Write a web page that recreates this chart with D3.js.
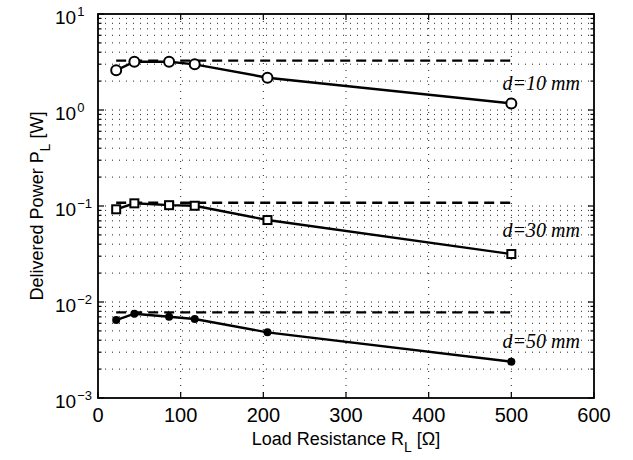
<!DOCTYPE html>
<meta charset="utf-8">
<style>
body { margin: 0; background: #fff; }
text { font-family: "Liberation Sans", Arial, sans-serif; fill: #000; }
.grid line { stroke: #222; stroke-width: 1; stroke-dasharray: 1,6; }
.series { fill: none; stroke: #000; stroke-width: 2.4; }
.maxline { fill: none; stroke: #000; stroke-width: 2.4; stroke-dasharray: 10,6; }
.lbl { font-family: "Liberation Serif", "Times New Roman", serif; font-style: italic; font-size: 20px; }
</style>
<body>
<svg width="633" height="460"></svg>
<script src="https://d3js.org/d3.v7.min.js"></script>
<script>

// load resistance (ohm)
var resistance = [22, 44, 86, 117, 205, 500];

// delivered power (W) for each distance
var p10 = [2.59, 3.18, 3.18, 2.99, 2.17, 1.17];
var p30 = [0.0924, 0.1066, 0.102, 0.1006, 0.0714, 0.0316];
var p50 = [0.00649, 0.00755, 0.00703, 0.00665, 0.00483, 0.00239];

// dashed maximum power levels
var pmax = [3.27, 0.108, 0.0078];

var labels = ["d=10 mm", "d=30 mm", "d=50 mm"];
var labelY = [1.61, 0.0475, 0.00332];

var xTicks = [0, 100, 200, 300, 400, 500, 600];
var yExps = [-3, -2, -1, 0, 1];

var svg = d3.select("svg"),
    margin = {top: 14, right: 39, bottom: 62, left: 98},
    width = 633 - margin.left - margin.right,
    height = 460 - margin.top - margin.bottom;

var x = d3.scaleLinear().domain([0, 600]).range([0, width]);
var y = d3.scaleLog().domain([1e-3, 10]).range([height, 0]);

var g = svg.append("g")
    .attr("transform", "translate(" + margin.left + "," + margin.top + ")");

// minor values for log axis
var minor = [];
yExps.slice(0, 4).forEach(function(e) {
  for (var k = 1; k < 10; k++) minor.push(k * Math.pow(10, e));
});
minor.push(10);

// grid
var grid = g.append("g").attr("class", "grid");
grid.selectAll(".gx").data(xTicks.slice(1, 6)).enter().append("line")
    .attr("x1", function(d) { return x(d); }).attr("x2", function(d) { return x(d); })
    .attr("y1", 0).attr("y2", height);
grid.selectAll(".gy").data(minor.filter(function(d) { return d > 1e-3 && d < 10; })).enter().append("line")
    .attr("x1", 0).attr("x2", width)
    .attr("y1", function(d) { return y(d); }).attr("y2", function(d) { return y(d); });

// ticks (inward, both sides)
var tk = g.append("g").attr("stroke", "#000").attr("stroke-width", 1.2);
xTicks.forEach(function(d) {
  tk.append("line").attr("x1", x(d)).attr("x2", x(d)).attr("y1", height).attr("y2", height - 6);
  tk.append("line").attr("x1", x(d)).attr("x2", x(d)).attr("y1", 0).attr("y2", 6);
});
minor.forEach(function(d) {
  var major = Math.abs(Math.log10(d) - Math.round(Math.log10(d))) < 1e-9;
  var len = major ? 6 : 3.5;
  tk.append("line").attr("x1", 0).attr("x2", len).attr("y1", y(d)).attr("y2", y(d));
  tk.append("line").attr("x1", width).attr("x2", width - len).attr("y1", y(d)).attr("y2", y(d));
});

// box
g.append("rect").attr("width", width).attr("height", height)
    .attr("fill", "none").attr("stroke", "#000").attr("stroke-width", 1.8);

// x tick labels
g.selectAll(".xl").data(xTicks).enter().append("text")
    .attr("x", function(d) { return x(d); })
    .attr("y", height + 24)
    .attr("text-anchor", "middle")
    .attr("font-size", "20px")
    .text(function(d) { return d; });

// y tick labels 10^n
yExps.forEach(function(e) {
  var t = g.append("text")
      .attr("x", -43).attr("y", y(Math.pow(10, e)) + 10)
      .attr("font-size", "19px");
  t.append("tspan").text("10");
  t.append("tspan").attr("dy", -8).attr("dx", 1).attr("font-size", "13px")
      .text(e < 0 ? "\u2212" + (-e) : e);
});

// axis titles
var xt = svg.append("text")
    .attr("x", margin.left + width / 2).attr("y", 445)
    .attr("text-anchor", "middle").attr("font-size", "18px");
xt.append("tspan").text("Load Resistance R");
xt.append("tspan").attr("dy", 7).attr("font-size", "14px").text("L");
xt.append("tspan").attr("dy", -7).text(" [\u03A9]");

var yt = svg.append("text")
    .attr("transform", "translate(43," + (margin.top + height / 2) + ") rotate(-90)")
    .attr("text-anchor", "middle").attr("font-size", "18px");
yt.append("tspan").text("Delivered Power P");
yt.append("tspan").attr("dy", 7).attr("font-size", "14px").text("L");
yt.append("tspan").attr("dy", -7).text(" [W]");

// dashed max lines
g.selectAll(".maxline").data(pmax).enter().append("line")
    .attr("class", "maxline")
    .attr("x1", x(resistance[0])).attr("x2", x(resistance[resistance.length - 1]))
    .attr("y1", function(d) { return y(d); }).attr("y2", function(d) { return y(d); });

var line = d3.line()
    .x(function(d, i) { return x(resistance[i]); })
    .y(function(d) { return y(d); });

[p10, p30, p50].forEach(function(s) {
  g.append("path").datum(s).attr("class", "series").attr("d", line);
});

// markers
g.selectAll(".m10").data(p10).enter().append("circle")
    .attr("cx", function(d, i) { return x(resistance[i]); })
    .attr("cy", function(d) { return y(d); })
    .attr("r", 5).attr("fill", "#fff").attr("stroke", "#000").attr("stroke-width", 2);

g.selectAll(".m30").data(p30).enter().append("rect")
    .attr("x", function(d, i) { return x(resistance[i]) - 4; })
    .attr("y", function(d) { return y(d) - 4; })
    .attr("width", 8).attr("height", 8)
    .attr("fill", "#fff").attr("stroke", "#000").attr("stroke-width", 2);

g.selectAll(".m50").data(p50).enter().append("circle")
    .attr("cx", function(d, i) { return x(resistance[i]); })
    .attr("cy", function(d) { return y(d); })
    .attr("r", 4).attr("fill", "#000");

// distance labels
g.selectAll(".lbl").data(labels).enter().append("text")
    .attr("class", "lbl")
    .attr("x", width - 14)
    .attr("y", function(d, i) { return y(labelY[i]); })
    .attr("text-anchor", "end")
    .text(function(d) { return d; });

</script>
</body>
